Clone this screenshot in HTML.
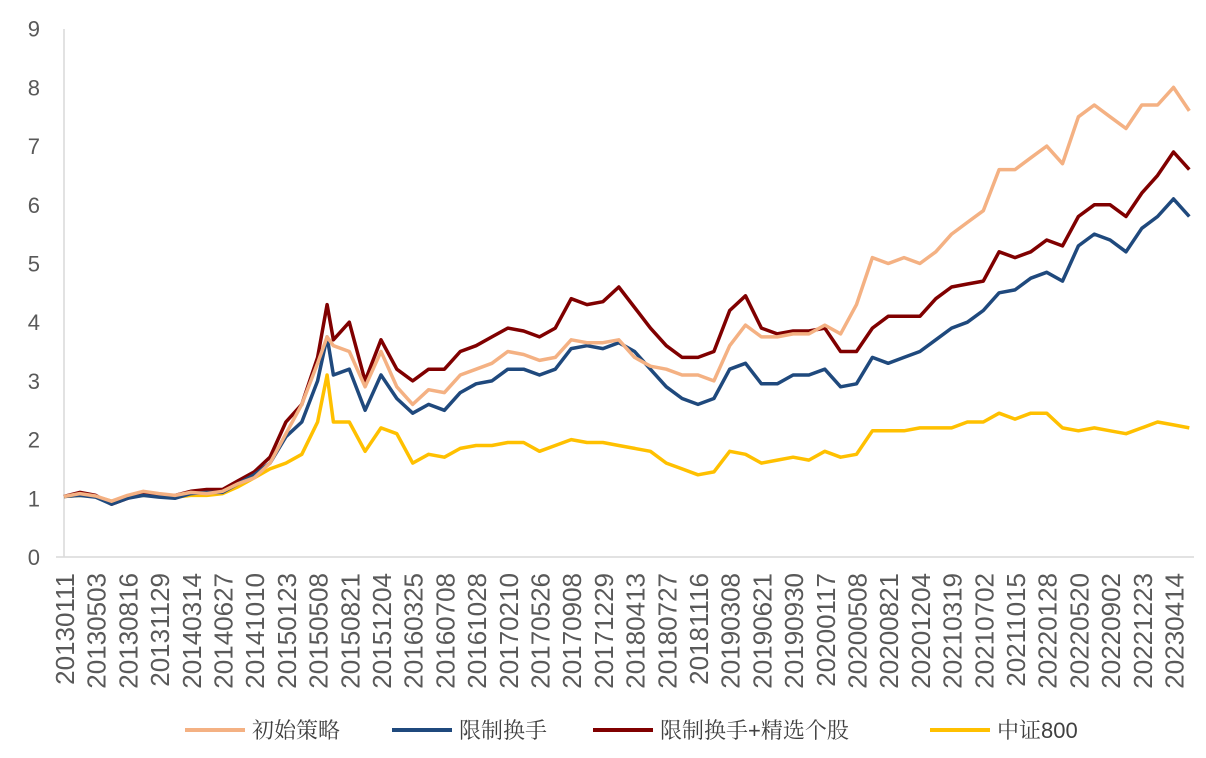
<!DOCTYPE html>
<html><head><meta charset="utf-8"><style>
body{margin:0;background:#fff;}
svg text{font-family:"Liberation Sans","Noto Sans CJK SC",sans-serif;fill:#595959;}
.lg{font-family:"Liberation Sans","Noto Serif CJK SC",serif;font-size:22px;fill:#404040;}
</style></head><body>
<svg id="chart" width="1206" height="753" viewBox="0 0 1206 753"></svg>
<script>
const categories=["20130111","20130503","20130816","20131129","20140314","20140627","20141010","20150123","20150508","20150821","20151204","20160325","20160708","20161028","20170210","20170526","20170908","20171229","20180413","20180727","20181116","20190308","20190621","20190930","20200117","20200508","20200821","20201204","20210319","20210702","20211015","20220128","20220520","20220902","20221223","20230414"];
const yTicks=[0,1,2,3,4,5,6,7,8,9];
const tPos=[0,0.5,1,1.5,2,2.5,3,3.5,4,4.5,5,5.5,6,6.5,7,7.5,8,8.3,8.5,9,9.5,10,10.5,11,11.5,12,12.5,13,13.5,14,14.5,15,15.5,16,16.5,17,17.5,18,18.5,19,19.5,20,20.5,21,21.5,22,22.5,23,23.5,24,24.5,25,25.5,26,26.5,27,27.5,28,28.5,29,29.5,30,30.5,31,31.5,32,32.5,33,33.5,34,34.5,35,35.5];
const orange=[1.03,1.08,1.04,0.95,1.05,1.12,1.08,1.05,1.1,1.08,1.12,1.25,1.35,1.6,2.1,2.6,3.3,3.75,3.6,3.5,2.9,3.5,2.9,2.6,2.85,2.8,3.1,3.2,3.3,3.5,3.45,3.35,3.4,3.7,3.65,3.65,3.7,3.4,3.25,3.2,3.1,3.1,3.0,3.6,3.95,3.75,3.75,3.8,3.8,3.95,3.8,4.3,5.1,5.0,5.1,5.0,5.2,5.5,5.7,5.9,6.6,6.6,6.8,7.0,6.7,7.5,7.7,7.5,7.3,7.7,7.7,8.0,7.6];
const blue=[1.03,1.05,1.02,0.9,1.0,1.05,1.02,1.0,1.08,1.1,1.1,1.25,1.4,1.6,2.05,2.3,3.0,3.75,3.1,3.2,2.5,3.1,2.7,2.45,2.6,2.5,2.8,2.95,3.0,3.2,3.2,3.1,3.2,3.55,3.6,3.55,3.65,3.5,3.2,2.9,2.7,2.6,2.7,3.2,3.3,2.95,2.95,3.1,3.1,3.2,2.9,2.95,3.4,3.3,3.4,3.5,3.7,3.9,4.0,4.2,4.5,4.55,4.75,4.85,4.7,5.3,5.5,5.4,5.2,5.6,5.8,6.1,5.8];
const red=[1.03,1.1,1.05,0.9,1.0,1.08,1.05,1.05,1.12,1.15,1.15,1.3,1.45,1.7,2.3,2.6,3.4,4.3,3.7,4.0,3.0,3.7,3.2,3.0,3.2,3.2,3.5,3.6,3.75,3.9,3.85,3.75,3.9,4.4,4.3,4.35,4.6,4.25,3.9,3.6,3.4,3.4,3.5,4.2,4.45,3.9,3.8,3.85,3.85,3.9,3.5,3.5,3.9,4.1,4.1,4.1,4.4,4.6,4.65,4.7,5.2,5.1,5.2,5.4,5.3,5.8,6.0,6.0,5.8,6.2,6.5,6.9,6.6];
const yellow=[1.03,1.05,1.03,0.95,1.02,1.05,1.05,1.02,1.05,1.05,1.08,1.2,1.35,1.5,1.6,1.75,2.3,3.1,2.3,2.3,1.8,2.2,2.1,1.6,1.75,1.7,1.85,1.9,1.9,1.95,1.95,1.8,1.9,2.0,1.95,1.95,1.9,1.85,1.8,1.6,1.5,1.4,1.45,1.8,1.75,1.6,1.65,1.7,1.65,1.8,1.7,1.75,2.15,2.15,2.15,2.2,2.2,2.2,2.3,2.3,2.45,2.35,2.45,2.45,2.2,2.15,2.2,2.15,2.1,2.2,2.3,2.25,2.2];
const seriesNames=["初始策略","限制换手","限制换手+精选个股","中证800"];
const svg=document.getElementById('chart');const NS='http://www.w3.org/2000/svg';
const x0=64,step=31.7,y0=557,ppu=58.7;
const X=t=>x0+t*step;const Y=v=>y0-v*ppu;
function mk(tag,attrs,parent){const e=document.createElementNS(NS,tag);for(const k in attrs)e.setAttribute(k,attrs[k]);(parent||svg).appendChild(e);return e;}
let e=mk('line',{x1:x0,y1:29,x2:x0,y2:y0,stroke:'#d9d9d9','stroke-width':1.5});


e=mk('line',{x1:56,y1:y0,x2:1194,y2:y0,stroke:'#d9d9d9','stroke-width':1.5});


yTicks.forEach(v=>{const t=mk('text',{x:40,y:Y(v)+8,'text-anchor':'end','font-size':22});t.textContent=v;

});
categories.forEach((c,i)=>{const x=X(i);const t=mk('text',{x:0,y:0,'text-anchor':'end','font-size':26,transform:`translate(${x+10},573) rotate(-90)`});t.textContent=c;

});
const cols=['#F4B183','#1F497D','#800000','#FFC000'];
[orange,blue,red,yellow].reverse().forEach((s,ri)=>{const i=3-ri;
const p=mk('polyline',{points:s.map((v,k)=>X(tPos[k]).toFixed(1)+','+Y(v).toFixed(1)).join(' '),fill:'none',stroke:cols[i],'stroke-width':3.5,'stroke-linejoin':'round'});

});
const lx=[185,392,593,930];
seriesNames.forEach((n,i)=>{const g=mk('g',{});


mk('line',{x1:lx[i],y1:730,x2:lx[i]+60,y2:730,stroke:cols[i],'stroke-width':4},g);
const t=mk('text',{x:lx[i]+67,y:738,class:'lg'},g);t.textContent=n;});
</script>
</body></html>
